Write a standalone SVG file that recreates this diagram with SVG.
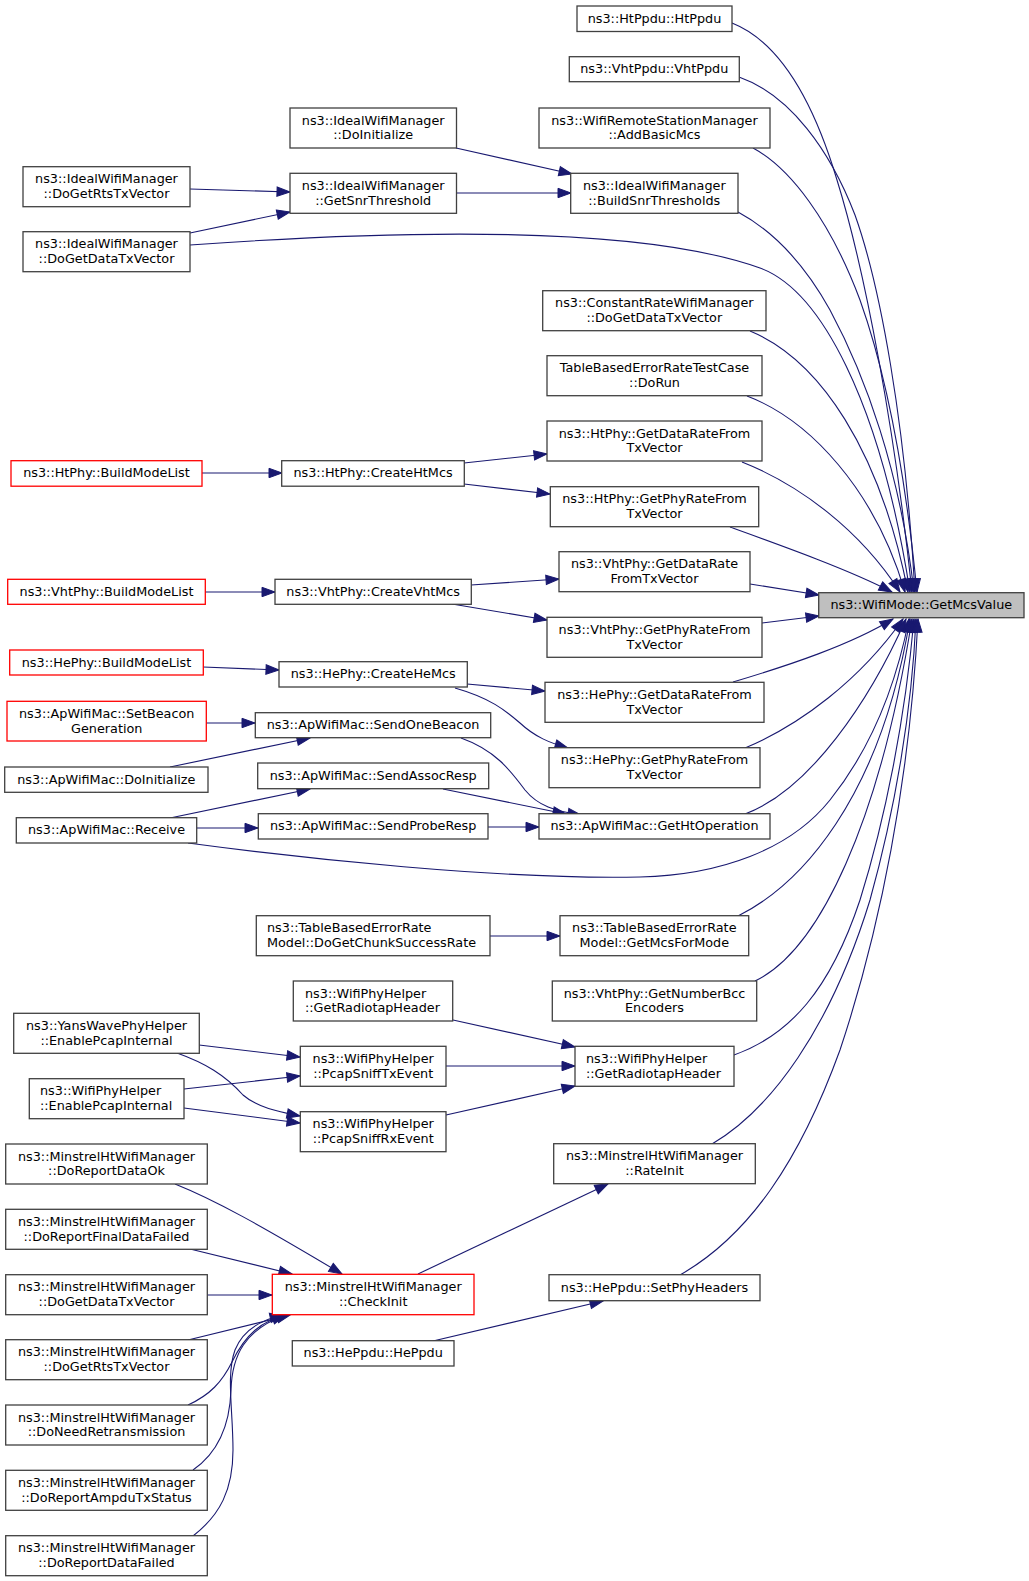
<svg xmlns="http://www.w3.org/2000/svg" width="1029" height="1581" viewBox="0 0 1029 1581">
<style>
text{font-family:"DejaVu Sans","Liberation Sans",sans-serif;font-size:12.8px;fill:#000;text-anchor:middle}
text.l{text-anchor:start}
rect{fill:#fff;stroke:#404040;stroke-width:1.3}
rect.red{stroke:#ff0000}
rect.hl{fill:#bfbfbf}
#edges path{fill:none;stroke:#191970;stroke-width:1.1;marker-end:url(#ah)}
</style>
<defs>
<marker id="ah" markerUnits="userSpaceOnUse" markerWidth="14" markerHeight="10" refX="13" refY="4.7" orient="auto" overflow="visible">
<path d="M0,0 L13,4.7 L0,9.4 Z" fill="#191970" stroke="#191970" stroke-width="1"/>
</marker>
</defs>
<rect x="0" y="0" width="1029" height="1581" style="fill:#fff;stroke:none"/>
<g id="edges">
<path d="M732,23 C775,40 810,90 837,180 C865,270 895,430 912,592"/>
<path d="M739,77 C790,95 830,150 855,215 C880,285 905,420 915,592"/>
<path d="M753,148 C790,168 830,220 860,300 C885,370 905,470 917,592"/>
<path d="M738,212 C775,232 805,265 830,310 C865,375 900,470 914,592"/>
<path d="M190,245 C400,230 640,225 760,268 C820,290 880,400 910,592"/>
<path d="M750,331 C820,360 880,450 908,592"/>
<path d="M747,396 C810,420 875,490 905,592"/>
<path d="M742,462 C800,485 860,530 900,592"/>
<path d="M730,527 C780,545 850,570 892,592"/>
<path d="M750,584 L819,595"/>
<path d="M762,623 L819,616"/>
<path d="M733,682 C790,665 850,645 893,619"/>
<path d="M745,748 C800,725 860,680 903,619"/>
<path d="M745,814 C810,790 870,700 906,619"/>
<path d="M188,843 C300,858 500,880 640,877 C720,875 790,850 830,800 C870,750 895,690 909,619"/>
<path d="M738,916 C800,885 880,800 910,619"/>
<path d="M755,981 C820,950 880,820 912,619"/>
<path d="M734,1055 C790,1035 830,990 860,900 C885,820 905,720 914,619"/>
<path d="M712,1144 C770,1110 830,1030 870,900 C895,810 912,710 916,619"/>
<path d="M680,1275 C750,1235 800,1160 840,1050 C880,930 910,780 918,619"/>
<path d="M456,148 L572,174"/>
<path d="M456,193 L571,193"/>
<path d="M190,189 L290,192"/>
<path d="M190,233 L290,212"/>
<path d="M202,473 L282,473"/>
<path d="M464,463 L547,454"/>
<path d="M464,484 L550,494"/>
<path d="M205,592 L275,592"/>
<path d="M471,585 L559,579"/>
<path d="M452,604 L547,620"/>
<path d="M203,667 L279,670"/>
<path d="M467,684 L545,691"/>
<path d="M455,688 C490,698 505,710 520,723 C535,737 550,743 568,748"/>
<path d="M206,723 L255,723"/>
<path d="M170,767 L310,738"/>
<path d="M461,738 C495,750 510,770 525,790 C538,806 555,811 581,815"/>
<path d="M443,789 L566,814"/>
<path d="M170,818 L310,789"/>
<path d="M197,828 L258,828"/>
<path d="M488,827 L539,827"/>
<path d="M490,936 L560,936"/>
<path d="M453,1020 L575,1047"/>
<path d="M446,1066 L575,1066"/>
<path d="M446,1115 L575,1086"/>
<path d="M199,1045 L300,1057"/>
<path d="M177,1053 C205,1063 225,1075 243,1095 C258,1108 280,1112 300,1116"/>
<path d="M184,1089 L300,1076"/>
<path d="M184,1108 L300,1123"/>
<path d="M175,1184 C215,1200 260,1225 342,1274"/>
<path d="M190,1249 L292,1274"/>
<path d="M207,1295 L272,1295"/>
<path d="M188,1340 L290,1315"/>
<path d="M188,1405 C210,1395 222,1382 232,1362 C245,1335 262,1320 287,1315"/>
<path d="M193,1470 C222,1450 230,1420 231,1390 C232,1355 245,1330 285,1315"/>
<path d="M193,1536 C220,1515 233,1490 233,1450 C233,1410 226,1375 235,1350 C243,1330 260,1320 283,1315"/>
<path d="M418,1274 L608,1184"/>
<path d="M433,1341 L603,1301"/>
</g>
<g id="n1"><rect x="577" y="6" width="155" height="25.5"/><text x="654.5" y="22.5">ns3::HtPpdu::HtPpdu</text></g>
<g id="n2"><rect x="569.3" y="56.7" width="170" height="25"/><text x="654.3" y="73.2">ns3::VhtPpdu::VhtPpdu</text></g>
<g id="n3"><rect x="539" y="108" width="231" height="40"/><text x="654.5" y="124.5">ns3::WifiRemoteStationManager</text><text x="654.5" y="139.2">::AddBasicMcs</text></g>
<g id="n4"><rect x="290" y="108" width="166.5" height="40"/><text x="373.2" y="124.5">ns3::IdealWifiManager</text><text x="373.2" y="139.2">::DoInitialize</text></g>
<g id="n5"><rect x="290" y="173.3" width="166.5" height="40"/><text x="373.2" y="189.8">ns3::IdealWifiManager</text><text x="373.2" y="204.5">::GetSnrThreshold</text></g>
<g id="n6"><rect x="570.7" y="173.3" width="167.3" height="40"/><text x="654.3" y="189.8">ns3::IdealWifiManager</text><text x="654.3" y="204.5">::BuildSnrThresholds</text></g>
<g id="n7"><rect x="23" y="166.7" width="167" height="40"/><text x="106.5" y="183.2">ns3::IdealWifiManager</text><text x="106.5" y="197.9">::DoGetRtsTxVector</text></g>
<g id="n8"><rect x="23" y="231.7" width="167" height="40"/><text x="106.5" y="248.2">ns3::IdealWifiManager</text><text x="106.5" y="262.9">::DoGetDataTxVector</text></g>
<g id="n9"><rect x="542.7" y="290.7" width="223.3" height="40"/><text x="654.3" y="307.2">ns3::ConstantRateWifiManager</text><text x="654.3" y="321.9">::DoGetDataTxVector</text></g>
<g id="n10"><rect x="547" y="355.7" width="215" height="40"/><text x="654.5" y="372.2">TableBasedErrorRateTestCase</text><text x="654.5" y="386.9">::DoRun</text></g>
<g id="n11"><rect x="547" y="421" width="215" height="40"/><text x="654.5" y="437.5">ns3::HtPhy::GetDataRateFrom</text><text x="654.5" y="452.2">TxVector</text></g>
<g id="n12"><rect x="550.3" y="486.7" width="208.4" height="40"/><text x="654.5" y="503.2">ns3::HtPhy::GetPhyRateFrom</text><text x="654.5" y="517.9">TxVector</text></g>
<g id="n13"><rect class="red" x="11" y="460.7" width="191" height="25.5"/><text x="106.5" y="477.3">ns3::HtPhy::BuildModeList</text></g>
<g id="n14"><rect x="281.7" y="460.7" width="182.6" height="25.5"/><text x="373" y="477.3">ns3::HtPhy::CreateHtMcs</text></g>
<g id="n15"><rect x="559" y="551.7" width="191" height="40"/><text x="654.5" y="568.2">ns3::VhtPhy::GetDataRate</text><text x="654.5" y="582.9">FromTxVector</text></g>
<g id="n16"><rect class="hl" x="818.7" y="592.7" width="205.3" height="25"/><text x="921.3" y="609.3">ns3::WifiMode::GetMcsValue</text></g>
<g id="n17"><rect x="547" y="617.3" width="215" height="40"/><text x="654.5" y="633.8">ns3::VhtPhy::GetPhyRateFrom</text><text x="654.5" y="648.5">TxVector</text></g>
<g id="n18"><rect class="red" x="7.7" y="579.3" width="197.6" height="25"/><text x="106.5" y="595.9">ns3::VhtPhy::BuildModeList</text></g>
<g id="n19"><rect x="275" y="579.3" width="196.3" height="25"/><text x="373.2" y="595.9">ns3::VhtPhy::CreateVhtMcs</text></g>
<g id="n20"><rect class="red" x="9.7" y="650" width="193.6" height="25"/><text x="106.5" y="666.6">ns3::HePhy::BuildModeList</text></g>
<g id="n21"><rect x="279" y="661.7" width="188.3" height="25.3"/><text x="373.2" y="678.3">ns3::HePhy::CreateHeMcs</text></g>
<g id="n22"><rect x="545" y="682.3" width="219" height="40"/><text x="654.5" y="698.8">ns3::HePhy::GetDataRateFrom</text><text x="654.5" y="713.5">TxVector</text></g>
<g id="n23"><rect x="549" y="747.7" width="211" height="40"/><text x="654.5" y="764.2">ns3::HePhy::GetPhyRateFrom</text><text x="654.5" y="778.9">TxVector</text></g>
<g id="n24"><rect class="red" x="7" y="701.3" width="199.3" height="39.7"/><text x="106.7" y="717.8">ns3::ApWifiMac::SetBeacon</text><text x="106.7" y="732.5">Generation</text></g>
<g id="n25"><rect x="255.3" y="712.7" width="235.4" height="25"/><text x="373" y="729.3">ns3::ApWifiMac::SendOneBeacon</text></g>
<g id="n26"><rect x="4.7" y="767" width="203.3" height="25.3"/><text x="106.3" y="783.6">ns3::ApWifiMac::DoInitialize</text></g>
<g id="n27"><rect x="257.7" y="763" width="231" height="25.7"/><text x="373.2" y="779.6">ns3::ApWifiMac::SendAssocResp</text></g>
<g id="n28"><rect x="16.3" y="817.7" width="180.4" height="25.3"/><text x="106.5" y="834.3">ns3::ApWifiMac::Receive</text></g>
<g id="n29"><rect x="258.3" y="813.7" width="229.7" height="25.3"/><text x="373.2" y="830.3">ns3::ApWifiMac::SendProbeResp</text></g>
<g id="n30"><rect x="539" y="813.7" width="231" height="25.3"/><text x="654.5" y="830.3">ns3::ApWifiMac::GetHtOperation</text></g>
<g id="n31"><rect x="256.3" y="915.7" width="233.7" height="40"/><text class="l" x="267" y="932.2">ns3::TableBasedErrorRate</text><text class="l" x="267" y="946.9">Model::DoGetChunkSuccessRate</text></g>
<g id="n32"><rect x="560" y="915.7" width="188.7" height="40"/><text x="654.3" y="932.2">ns3::TableBasedErrorRate</text><text x="654.3" y="946.9">Model::GetMcsForMode</text></g>
<g id="n33"><rect x="552.3" y="981" width="204.4" height="40"/><text x="654.5" y="997.5">ns3::VhtPhy::GetNumberBcc</text><text x="654.5" y="1012.2">Encoders</text></g>
<g id="n34"><rect x="293.3" y="981" width="159.4" height="40"/><text class="l" x="305" y="997.5">ns3::WifiPhyHelper</text><text class="l" x="305" y="1012.2">::GetRadiotapHeader</text></g>
<g id="n35"><rect x="575" y="1046.3" width="159" height="40"/><text class="l" x="586" y="1062.8">ns3::WifiPhyHelper</text><text class="l" x="586" y="1077.5">::GetRadiotapHeader</text></g>
<g id="n36"><rect x="13.7" y="1013.3" width="185.6" height="40"/><text x="106.5" y="1029.8">ns3::YansWavePhyHelper</text><text x="106.5" y="1044.5">::EnablePcapInternal</text></g>
<g id="n37"><rect x="29.3" y="1078.7" width="154.7" height="40"/><text class="l" x="40" y="1095.2">ns3::WifiPhyHelper</text><text class="l" x="40" y="1109.9">::EnablePcapInternal</text></g>
<g id="n38"><rect x="300.3" y="1046.3" width="145.7" height="40"/><text x="373.2" y="1062.8">ns3::WifiPhyHelper</text><text x="373.2" y="1077.5">::PcapSniffTxEvent</text></g>
<g id="n39"><rect x="300.3" y="1111.7" width="145.7" height="40"/><text x="373.2" y="1128.2">ns3::WifiPhyHelper</text><text x="373.2" y="1142.9">::PcapSniffRxEvent</text></g>
<g id="n40"><rect x="5.7" y="1144" width="201.6" height="40"/><text x="106.5" y="1160.5">ns3::MinstrelHtWifiManager</text><text x="106.5" y="1175.2">::DoReportDataOk</text></g>
<g id="n41"><rect x="553.7" y="1143.7" width="201.6" height="40"/><text x="654.5" y="1160.2">ns3::MinstrelHtWifiManager</text><text x="654.5" y="1174.9">::RateInit</text></g>
<g id="n42"><rect x="5.7" y="1209.3" width="201.6" height="40"/><text x="106.5" y="1225.8">ns3::MinstrelHtWifiManager</text><text x="106.5" y="1240.5">::DoReportFinalDataFailed</text></g>
<g id="n43"><rect class="red" x="272.3" y="1274.3" width="201.7" height="40.4"/><text x="373.2" y="1290.8">ns3::MinstrelHtWifiManager</text><text x="373.2" y="1305.5">::CheckInit</text></g>
<g id="n44"><rect x="549" y="1274.7" width="211" height="26"/><text x="654.5" y="1291.5">ns3::HePpdu::SetPhyHeaders</text></g>
<g id="n45"><rect x="5.7" y="1274.7" width="201.6" height="40"/><text x="106.5" y="1291.2">ns3::MinstrelHtWifiManager</text><text x="106.5" y="1305.9">::DoGetDataTxVector</text></g>
<g id="n46"><rect x="5.7" y="1339.7" width="201.6" height="40"/><text x="106.5" y="1356.2">ns3::MinstrelHtWifiManager</text><text x="106.5" y="1370.9">::DoGetRtsTxVector</text></g>
<g id="n47"><rect x="292.3" y="1340.7" width="161.7" height="25.3"/><text x="373.2" y="1357.3">ns3::HePpdu::HePpdu</text></g>
<g id="n48"><rect x="5.7" y="1405" width="201.6" height="40"/><text x="106.5" y="1421.5">ns3::MinstrelHtWifiManager</text><text x="106.5" y="1436.2">::DoNeedRetransmission</text></g>
<g id="n49"><rect x="5.7" y="1470.3" width="201.6" height="40"/><text x="106.5" y="1486.8">ns3::MinstrelHtWifiManager</text><text x="106.5" y="1501.5">::DoReportAmpduTxStatus</text></g>
<g id="n50"><rect x="5.7" y="1535.7" width="201.6" height="40"/><text x="106.5" y="1552.2">ns3::MinstrelHtWifiManager</text><text x="106.5" y="1566.9">::DoReportDataFailed</text></g>
</svg>
